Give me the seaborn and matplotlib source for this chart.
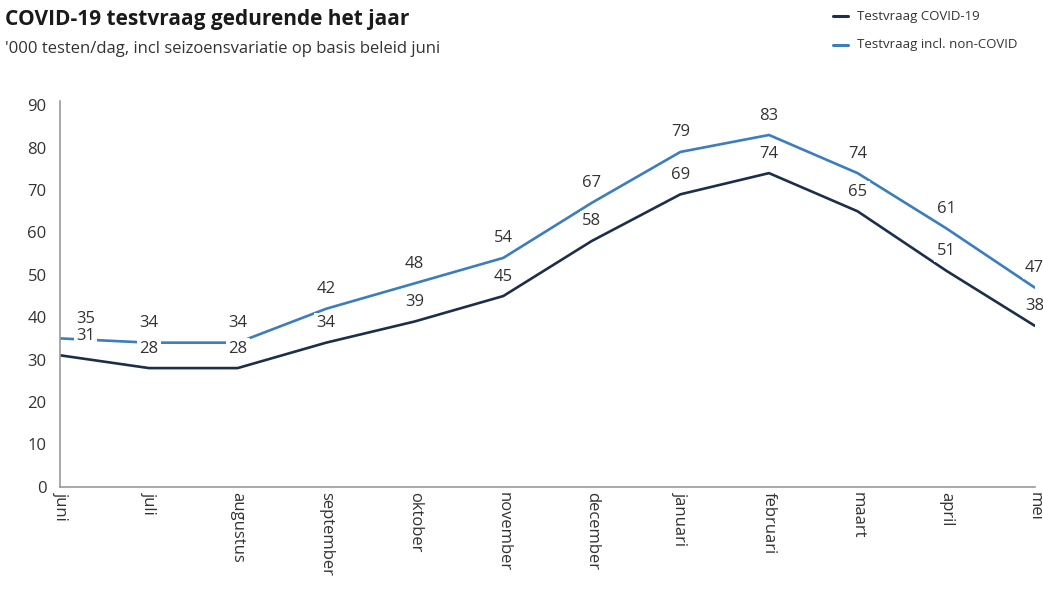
import matplotlib
matplotlib.use("Agg")
import matplotlib.pyplot as plt
import seaborn as sns
import pandas as pd

maanden = ["juni", "juli", "augustus", "september", "oktober", "november",
           "december", "januari", "februari", "maart", "april", "mei"]
covid = [31, 28, 28, 34, 39, 45, 58, 69, 74, 65, 51, 38]
incl_non_covid = [35, 34, 34, 42, 48, 54, 67, 79, 83, 74, 61, 47]
reeksen = ["Testvraag COVID-19", "Testvraag incl. non-COVID"]
kleuren = ["#1c2f4a", "#3b7dbd"]
y_ticks = [0, 10, 20, 30, 40, 50, 60, 70, 80, 90]

sns.set_theme(style="white")
plt.rcParams["font.family"] = ["Open Sans", "DejaVu Sans"]

df = pd.DataFrame({
    "maand": maanden * 2,
    "idx": list(range(len(maanden))) * 2,
    "waarde": covid + incl_non_covid,
    "reeks": [reeksen[0]] * len(maanden) + [reeksen[1]] * len(maanden),
})

fig = plt.figure(figsize=(10.43, 5.98), dpi=100)
ax = fig.add_axes([0.058, 0.186, 0.934, 0.645])

sns.lineplot(data=df, x="idx", y="waarde", hue="reeks", palette=kleuren,
             hue_order=reeksen, linewidth=1.9, ax=ax, legend=False, zorder=2)

# value labels with white boxes that interrupt the lines beneath them
for serie in [incl_non_covid, covid]:
    for i, v in enumerate(serie):
        dx = 18 if i == 0 else 0
        ax.annotate(str(v), (i, v), xytext=(dx, 14), textcoords="offset points",
                    ha="center", va="center", fontsize=12, color="#333333",
                    bbox=dict(boxstyle="square,pad=0.15", fc="white", ec="none"),
                    zorder=3, annotation_clip=False)

ax.set_xlim(0, len(maanden) - 1)
ax.set_ylim(0, 91)
ax.set_yticks(y_ticks)
ax.set_yticklabels([str(t) for t in y_ticks], fontsize=12, color="#333333")
ax.set_xticks(range(len(maanden)))
ax.set_xticklabels(maanden, rotation=-90, fontsize=12, color="#333333",
                   va="top", ha="center")
ax.tick_params(axis="y", length=0, pad=10)
ax.tick_params(axis="x", length=0, pad=4)
ax.set_xlabel("")
ax.set_ylabel("")
for s in ["top", "right"]:
    ax.spines[s].set_visible(False)
for s in ["left", "bottom"]:
    ax.spines[s].set_color("#9a9a9a")
    ax.spines[s].set_linewidth(1.2)

fig.text(0.005, 0.968, "COVID-19 testvraag gedurende het jaar", fontsize=15,
         fontweight="bold", color="#1a1a1a", va="center", ha="left")
fig.text(0.005, 0.918, "'000 testen/dag, incl seizoensvariatie op basis beleid juni",
         fontsize=12, color="#333333", va="center", ha="left")

# legend in the upper right corner
for j, (naam, kleur) in enumerate(zip(reeksen, kleuren)):
    yy = 0.973 - j * 0.048
    fig.add_artist(plt.Line2D([0.799, 0.813], [yy, yy], color=kleur, lw=2.2,
                              transform=fig.transFigure))
    fig.text(0.822, yy, naam, fontsize=9.5, color="#333333", va="center", ha="left")

fig.savefig("out.png", dpi=100)
